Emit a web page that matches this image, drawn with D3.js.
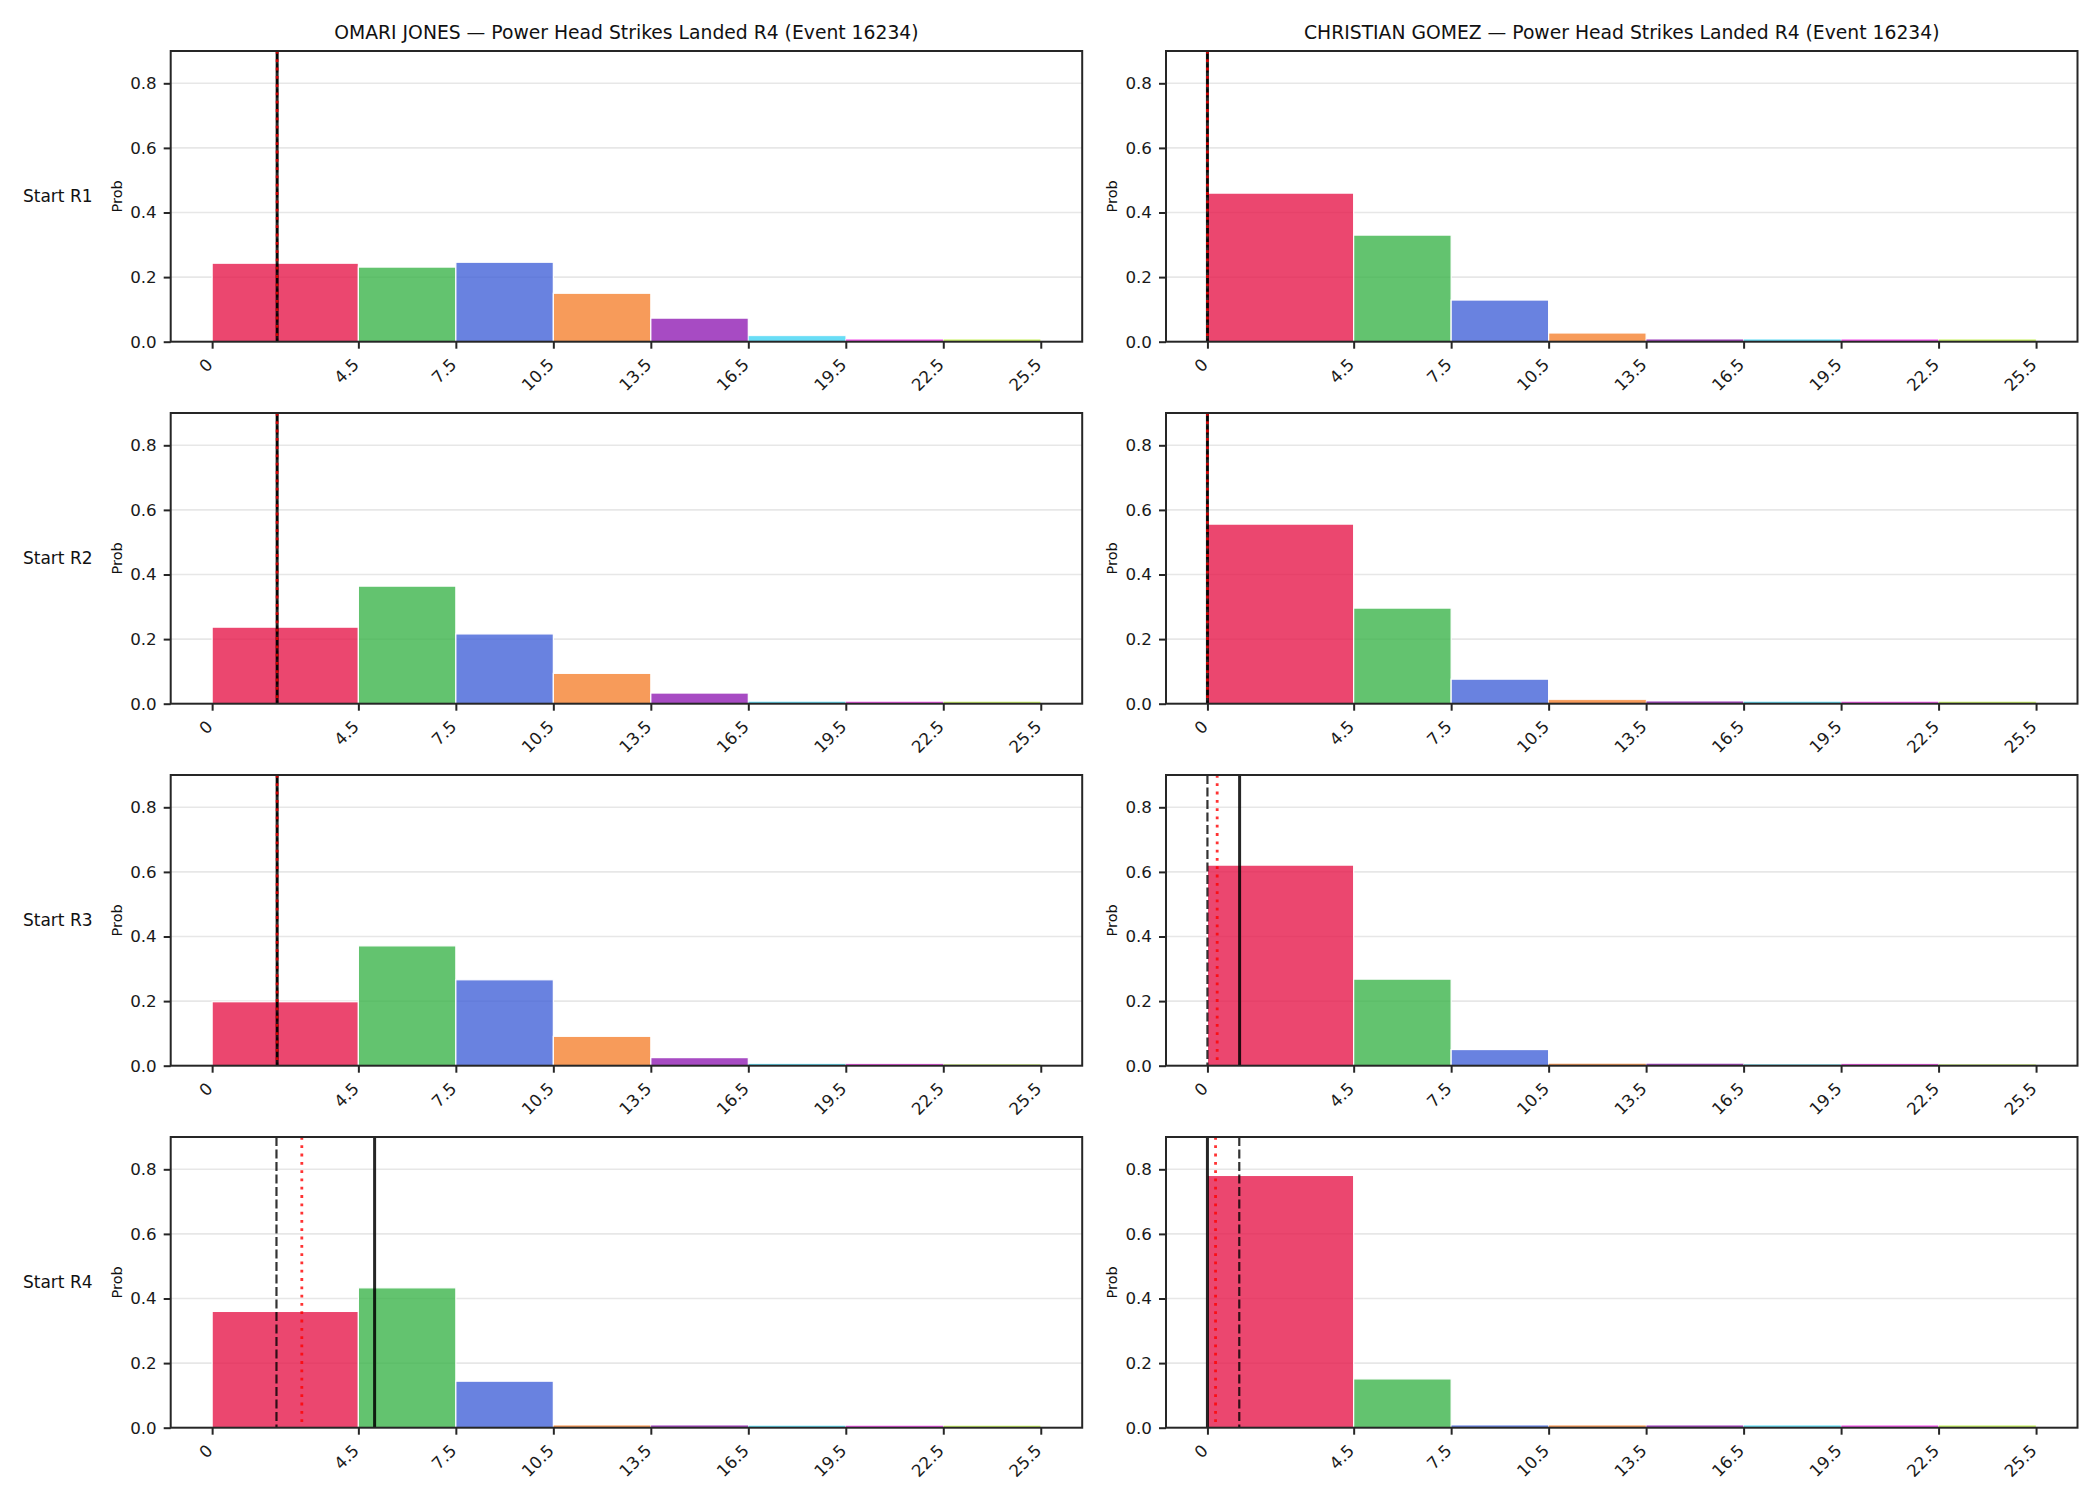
<!DOCTYPE html>
<html lang="en">
<head>
  <meta charset="UTF-8">
  <title>Power Head Strikes Landed R4</title>
  <script src="https://d3js.org/d3.v7.min.js"></script>
  <style>
    body {
      margin: 0;
      background: #fff;
      font-family: "DejaVu Sans", sans-serif;
    }
    .tick text {
      font-family: "DejaVu Sans", sans-serif;
      font-size: 16.7px;
      fill: #1a1a1a;
    }
    .tick line {
      stroke: #262626;
      stroke-width: 2;
    }
  </style>
</head>
<body>
  <svg id="chart" width="2100" height="1500"></svg>
  <script>
    // chart data
    const players = ["OMARI JONES", "CHRISTIAN GOMEZ"];
    const statTitle = "Power Head Strikes Landed R4 (Event 16234)";
    const rowLabels = ["Start R1", "Start R2", "Start R3", "Start R4"];
    const binEdges = [0, 4.5, 7.5, 10.5, 13.5, 16.5, 19.5, 22.5, 25.5];
    const tickLabels = ["0", "4.5", "7.5", "10.5", "13.5", "16.5", "19.5", "22.5", "25.5"];
    const yTicks = [0, 0.2, 0.4, 0.6, 0.8];
    const binColors = ["#e6194b", "#3cb44b", "#4363d8", "#f58231", "#911eb4", "#42d4f4", "#f032e6", "#bfef45"];

    // probabilities per bin, one row per starting round
    const omariProbs = [
      [0.243, 0.231, 0.246, 0.150, 0.073, 0.018, 0.008, 0.008],
      [0.237, 0.364, 0.216, 0.094, 0.033, 0.007, 0.007, 0.007],
      [0.198, 0.371, 0.266, 0.091, 0.025, 0.006, 0.006, 0.005],
      [0.360, 0.433, 0.144, 0.008, 0.008, 0.007, 0.007, 0.007]
    ];
    const christianProbs = [
      [0.460, 0.330, 0.129, 0.027, 0.008, 0.008, 0.008, 0.008],
      [0.556, 0.296, 0.076, 0.012, 0.008, 0.007, 0.007, 0.007],
      [0.621, 0.268, 0.050, 0.007, 0.007, 0.005, 0.006, 0.005],
      [0.781, 0.151, 0.008, 0.008, 0.008, 0.008, 0.008, 0.008]
    ];

    // reference lines: solid black, dashed black, red dotted
    const omariSolid   = [2.0, 2.0, 2.0, 5.0];
    const omariDashed  = [2.0, 2.0, 2.0, 1.98];
    const omariDotted  = [2.0, 2.0, 2.0, 2.76];
    const christianSolid  = [0, 0, 0.99, 0];
    const christianDashed = [0, 0, 0, 0.98];
    const christianDotted = [0, 0, 0.30, 0.25];

    const colLeft = [170.7, 1166];
    const rowTop = [51, 413, 775, 1137];
    const pw = 911.5, ph = 290.7;

    const svg = d3.select("#chart");

    const x = d3.scaleLinear().domain([-1.275, 26.775]).range([0, pw]);
    const y = d3.scaleLinear().domain([0, 0.9]).range([ph, 0]);

    const panels = [
      { probs: omariProbs, solid: omariSolid, dashed: omariDashed, dotted: omariDotted },
      { probs: christianProbs, solid: christianSolid, dashed: christianDashed, dotted: christianDotted }
    ];

    panels.forEach((p, c) => {
      // column title
      svg.append("text")
        .attr("x", colLeft[c] + pw / 2)
        .attr("y", rowTop[0] - 12.5)
        .attr("text-anchor", "middle")
        .attr("font-size", "18.75px")
        .attr("fill", "#111")
        .text(`${players[c]} — ${statTitle}`);

      rowLabels.forEach((lab, r) => {
        const g = svg.append("g")
          .attr("transform", `translate(${colLeft[c]},${rowTop[r]})`);

        // grid
        g.selectAll(".grid")
          .data(yTicks.slice(1))
          .enter()
          .append("line")
          .attr("x1", 0).attr("x2", pw)
          .attr("y1", d => y(d)).attr("y2", d => y(d))
          .attr("stroke", "#e7e7e7")
          .attr("stroke-width", 1.6);

        // bars
        const bars = p.probs[r].map((v, i) => ({ x0: binEdges[i], x1: binEdges[i + 1], v, i }));
        g.selectAll(".bar")
          .data(bars)
          .enter()
          .append("rect")
          .attr("x", d => x(d.x0))
          .attr("y", d => y(d.v))
          .attr("width", d => x(d.x1) - x(d.x0))
          .attr("height", d => y(0) - y(d.v))
          .attr("fill", d => binColors[d.i])
          .attr("fill-opacity", 0.8)
          .attr("stroke", "#fff")
          .attr("stroke-width", d => d.v < 0.02 ? 0.5 : 1.2);

        // reference lines
        const vline = (val, color, width, dash, op) => {
          g.append("line")
            .attr("x1", x(val)).attr("x2", x(val))
            .attr("y1", 0).attr("y2", ph)
            .attr("stroke", color)
            .attr("stroke-width", width)
            .attr("stroke-dasharray", dash)
            .attr("stroke-opacity", op);
        };
        vline(p.solid[r], "#000", 3, null, 0.85);
        vline(p.dashed[r], "#000", 2.2, "9,3.5", 0.8);
        vline(p.dotted[r], "#ff0000", 2.8, "2.8,5.5", 0.8);

        // axes
        g.append("g")
          .call(d3.axisLeft(y).tickValues(yTicks).tickFormat(d3.format(".1f")).tickSize(7).tickPadding(7).tickSizeOuter(0))
          .call(a => a.select(".domain").remove());

        const xa = g.append("g")
          .attr("transform", `translate(0,${ph})`)
          .call(d3.axisBottom(x).tickValues(binEdges).tickFormat((d, i) => tickLabels[i]).tickSize(7).tickSizeOuter(0))
          .call(a => a.select(".domain").remove());
        xa.selectAll(".tick text")
          .attr("x", 0).attr("y", 0).attr("dy", "0.35em")
          .attr("text-anchor", "end")
          .attr("transform", "translate(-3,20) rotate(-45)");

        // spines
        g.append("rect")
          .attr("width", pw).attr("height", ph)
          .attr("fill", "none")
          .attr("stroke", "#262626")
          .attr("stroke-width", 2);

        // y label
        g.append("text")
          .attr("transform", `translate(-54,${ph / 2}) rotate(-90)`)
          .attr("text-anchor", "middle")
          .attr("dy", "0.35em")
          .attr("font-size", "14.6px")
          .attr("fill", "#111")
          .text("Prob");

        // row label
        if (c === 0) {
          svg.append("text")
            .attr("x", 23)
            .attr("y", rowTop[r] + ph / 2)
            .attr("dy", "0.35em")
            .attr("font-size", "17px")
            .attr("fill", "#111")
            .text(lab);
        }
      });
    });
  </script>
</body>
</html>
